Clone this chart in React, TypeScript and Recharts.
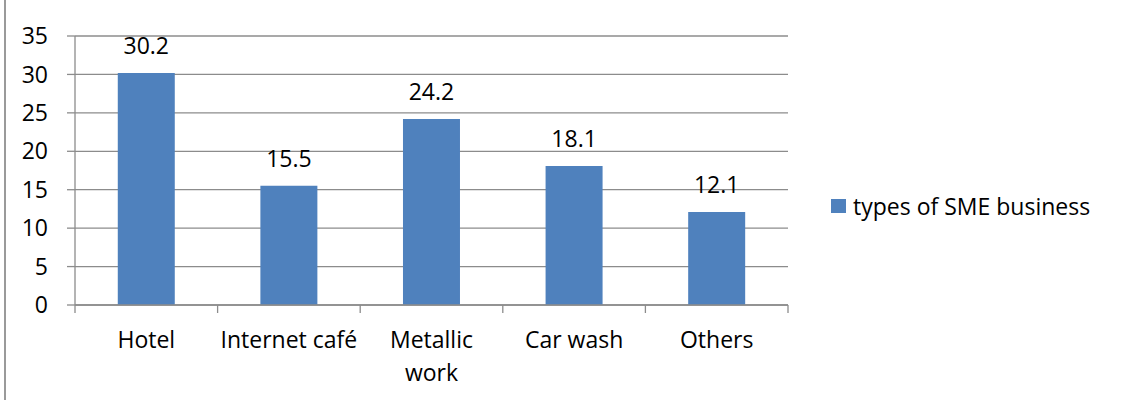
import { BarChart, Bar, XAxis, YAxis, CartesianGrid, Legend, LabelList } from "recharts";

const BLUE = "#4F81BD";
const GRID = "#8c8c8c";
const FONT = "'Open Sans', sans-serif";
const FS = 23;

const categories = ["Hotel", "Internet café", "Metallic work", "Car wash", "Others"];
const values = [30.2, 15.5, 24.2, 18.1, 12.1];
const yTicks = [0, 5, 10, 15, 20, 25, 30, 35];
const seriesName = "types of SME business";

const data = categories.map((c, i) => ({ name: c, value: values[i] }));

const TICK_SIZE = 7;
const TICK_MARGIN = 20;
const LABEL_MAX = 138;

let ctx: CanvasRenderingContext2D | null = null;
function measure(s: string) {
  if (!ctx) ctx = document.createElement("canvas").getContext("2d");
  if (!ctx) return s.length * FS * 0.55;
  ctx.font = `${FS}px 'Open Sans'`;
  return ctx.measureText(s).width;
}

// greedy word wrap, like the category labels in the original
function wrap(label: string) {
  const lines: string[] = [];
  let cur = "";
  for (const w of label.split(" ")) {
    const next = cur ? `${cur} ${w}` : w;
    if (cur && measure(next) > LABEL_MAX) {
      lines.push(cur);
      cur = w;
    } else {
      cur = next;
    }
  }
  if (cur) lines.push(cur);
  return lines;
}

function CategoryTick(props: any) {
  const { x, y, payload, index, width, visibleTicksCount } = props;
  const step = width / visibleTicksCount;
  const axisY = y - TICK_SIZE - TICK_MARGIN;
  const lines = wrap(String(payload.value));
  return (
    <g>
      {index === 0 && (
        <line x1={x - step / 2} x2={x - step / 2} y1={axisY} y2={axisY + TICK_SIZE + 1} stroke={GRID} strokeWidth={1.3} />
      )}
      <line x1={x + step / 2} x2={x + step / 2} y1={axisY} y2={axisY + TICK_SIZE + 1} stroke={GRID} strokeWidth={1.3} />
      <text x={x} y={y + 16} textAnchor="middle" fontSize={FS} fill="#000">
        {lines.map((l, i) => (
          <tspan key={i} x={x} dy={i === 0 ? 0 : 33}>
            {l}
          </tspan>
        ))}
      </text>
    </g>
  );
}

function LegendContent() {
  return (
    <div style={{ display: "flex", alignItems: "center", fontSize: FS, color: "#000", whiteSpace: "nowrap" }}>
      <span style={{ display: "inline-block", width: 15, height: 14, background: BLUE, marginRight: 7 }} />
      <span>{seriesName}</span>
    </div>
  );
}

export default function App() {
  return (
    <div style={{ position: "absolute", left: 0, top: 0, width: 1121, height: 400, background: "#fff", fontFamily: FONT }}>
      <div style={{ position: "absolute", left: 4, top: 0, width: 2, height: 400, background: "#9a9a9a" }} />
      <BarChart
        width={1121}
        height={400}
        data={data}
        margin={{ top: 36, right: 53, bottom: 0, left: 0 }}
        barCategoryGap="30%"
      >
        <CartesianGrid horizontal vertical={false} stroke={GRID} strokeWidth={1.3} />
        <XAxis
          dataKey="name"
          height={95}
          interval={0}
          axisLine={{ stroke: GRID, strokeWidth: 1.3 }}
          tickLine={false}
          tickSize={TICK_SIZE}
          tickMargin={TICK_MARGIN}
          tick={<CategoryTick />}
        />
        <YAxis
          width={75}
          domain={[0, 35]}
          ticks={yTicks}
          interval={0}
          axisLine={{ stroke: GRID, strokeWidth: 1.3 }}
          tickLine={{ stroke: GRID, strokeWidth: 1.3 }}
          tickSize={8}
          tickMargin={19}
          tick={{ fill: "#000", fontSize: FS }}
        />
        <Legend
          layout="horizontal"
          verticalAlign="middle"
          align="right"
          content={<LegendContent />}
          wrapperStyle={{ left: 831, top: 190, right: undefined, width: 280 }}
        />
        <Bar dataKey="value" name={seriesName} fill={BLUE} isAnimationActive={false}>
          <LabelList dataKey="value" position="top" offset={19} fill="#000" fontSize={FS} />
        </Bar>
      </BarChart>
    </div>
  );
}
